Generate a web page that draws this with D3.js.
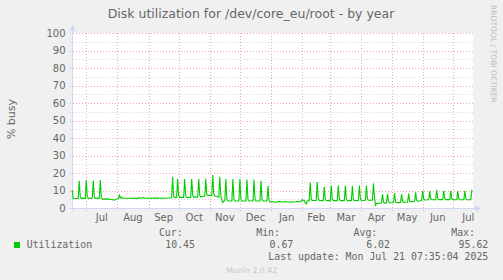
<!DOCTYPE html>
<html>
  <head>
    <script src="https://cdn.jsdelivr.net/npm/d3@7"></script>
    <style>
      body { margin: 0; background: #F0F0F0; }
      text { font-family: "DejaVu Sans", sans-serif; fill: #666; }
      .mono { font-family: "DejaVu Sans Mono", monospace; font-size: 9.9px; }
    </style>
  </head>
  <body>
    <svg id="chart" width="503" height="280"></svg>
    <script>
    // daily utilization (% busy)
    var utilization = [
      ["2024-06-17",10.3],["2024-06-18",5.6],["2024-06-21",5.4],["2024-06-23",5.5],["2024-06-24",15.6],["2024-06-25",6.6],["2024-06-26",5.5],
      ["2024-06-30",5.5],["2024-07-01",16.0],["2024-07-02",6.6],["2024-07-03",5.5],
      ["2024-07-07",5.6],["2024-07-08",15.7],["2024-07-09",6.6],["2024-07-10",5.5],
      ["2024-07-14",5.5],["2024-07-15",16.0],["2024-07-16",6.0],["2024-07-17",5.1],
      ["2024-07-22",5.2],["2024-07-26",4.9],["2024-07-29",4.5],["2024-07-31",5.2],["2024-08-02",5.4],["2024-08-03",7.3],["2024-08-04",5.7],["2024-08-05",6.3],["2024-08-06",5.6],
      ["2024-08-14",5.6],["2024-08-22",5.5],["2024-08-23",6.0],["2024-08-24",5.6],["2024-08-27",5.9],["2024-08-28",5.6],["2024-09-10",5.7],["2024-09-18",5.6],["2024-09-24",5.8],
      ["2024-09-25",17.9],["2024-09-26",6.8],["2024-09-27",6.1],
      ["2024-09-29",6.1],["2024-09-30",16.5],["2024-10-01",7.2],["2024-10-02",6.1],
      ["2024-10-06",6.1],["2024-10-07",16.6],["2024-10-08",7.2],["2024-10-09",6.1],
      ["2024-10-13",6.1],["2024-10-14",16.6],["2024-10-15",7.2],["2024-10-16",6.2],
      ["2024-10-20",6.2],["2024-10-21",16.6],["2024-10-22",7.3],["2024-10-23",6.4],
      ["2024-10-27",6.8],["2024-10-28",16.7],["2024-10-29",7.8],["2024-10-30",7.2],
      ["2024-11-03",7.2],["2024-11-04",18.9],["2024-11-05",8.0],["2024-11-06",6.8],
      ["2024-11-10",6.3],["2024-11-11",17.9],["2024-11-12",6.9],["2024-11-13",4.6],["2024-11-14",3.1],["2024-11-15",4.0],
      ["2024-11-16",4.0],["2024-11-17",16.5],["2024-11-18",5.2],["2024-11-19",4.0],
      ["2024-11-23",4.0],["2024-11-24",16.5],["2024-11-25",5.2],["2024-11-26",4.0],
      ["2024-11-30",4.0],["2024-12-01",16.5],["2024-12-02",5.2],["2024-12-03",4.0],
      ["2024-12-07",4.0],["2024-12-08",16.3],["2024-12-09",5.2],["2024-12-10",4.0],
      ["2024-12-14",4.0],["2024-12-15",16.2],["2024-12-16",5.1],["2024-12-17",4.0],
      ["2024-12-21",4.0],["2024-12-22",15.6],["2024-12-23",5.0],["2024-12-24",4.0],
      ["2024-12-28",4.0],["2024-12-29",12.7],["2024-12-30",4.6],["2024-12-31",3.4],
      ["2025-01-03",3.6],["2025-01-06",3.3],["2025-01-09",3.8],["2025-01-12",3.4],["2025-01-15",3.7],["2025-01-18",3.3],["2025-01-21",3.6],["2025-01-24",3.4],["2025-01-27",3.7],["2025-01-30",3.5],
      ["2025-02-01",4.6],["2025-02-03",4.3],["2025-02-04",3.0],["2025-02-05",2.2],["2025-02-06",4.0],
      ["2025-02-08",4.2],["2025-02-09",14.6],["2025-02-10",5.3],["2025-02-11",4.3],
      ["2025-02-15",4.3],["2025-02-16",14.8],["2025-02-17",5.3],["2025-02-18",4.3],
      ["2025-02-22",4.2],["2025-02-23",12.0],["2025-02-24",5.0],["2025-02-25",4.2],
      ["2025-03-01",4.2],["2025-03-02",12.8],["2025-03-03",5.1],["2025-03-04",4.2],
      ["2025-03-08",4.2],["2025-03-09",12.8],["2025-03-10",5.1],["2025-03-11",4.2],
      ["2025-03-15",4.2],["2025-03-16",12.8],["2025-03-17",5.1],["2025-03-18",4.2],
      ["2025-03-22",4.2],["2025-03-23",12.6],["2025-03-24",5.0],["2025-03-25",4.2],
      ["2025-03-29",4.3],["2025-03-30",12.9],["2025-03-31",5.2],["2025-04-01",4.3],
      ["2025-04-05",4.4],["2025-04-06",12.9],["2025-04-07",5.3],["2025-04-08",4.4],
      ["2025-04-12",4.5],["2025-04-13",14.0],["2025-04-14",6.5],["2025-04-15",1.6],["2025-04-16",2.6],
      ["2025-04-21",2.8],["2025-04-22",8.0],["2025-04-23",3.3],["2025-04-24",2.8],
      ["2025-04-26",2.9],["2025-04-27",8.0],["2025-04-28",3.6],["2025-04-29",3.0],
      ["2025-05-03",3.1],["2025-05-04",8.5],["2025-05-05",3.7],["2025-05-06",3.1],
      ["2025-05-10",3.2],["2025-05-11",8.0],["2025-05-12",3.7],["2025-05-13",3.2],
      ["2025-05-17",3.4],["2025-05-18",8.2],["2025-05-19",4.0],["2025-05-20",3.5],
      ["2025-05-24",3.8],["2025-05-25",9.0],["2025-05-26",4.4],["2025-05-27",3.9],
      ["2025-05-31",4.3],["2025-06-01",9.8],["2025-06-02",5.1],["2025-06-03",4.6],
      ["2025-06-07",4.7],["2025-06-08",9.7],["2025-06-09",5.3],["2025-06-10",4.7],
      ["2025-06-14",4.7],["2025-06-15",10.4],["2025-06-16",5.4],["2025-06-17",4.8],
      ["2025-06-21",4.8],["2025-06-22",9.8],["2025-06-23",5.4],["2025-06-24",4.8],
      ["2025-06-28",4.8],["2025-06-29",9.8],["2025-06-30",5.4],["2025-07-01",4.8],
      ["2025-07-05",4.7],["2025-07-06",9.8],["2025-07-07",5.3],["2025-07-08",4.7],
      ["2025-07-12",4.7],["2025-07-13",9.8],["2025-07-14",5.3],["2025-07-15",4.7],
      ["2025-07-19",4.8],["2025-07-20",10.45]
    ];

    var monthStarts = ["2024-07-01","2024-08-01","2024-09-01","2024-10-01","2024-11-01","2024-12-01",
      "2025-01-01","2025-02-01","2025-03-01","2025-04-01","2025-05-01","2025-06-01","2025-07-01","2025-08-01"];
    var monthLabels = ["Jul","Aug","Sep","Oct","Nov","Dec","Jan","Feb","Mar","Apr","May","Jun","Jul"];
    var yTicks = [0,10,20,30,40,50,60,70,80,90,100];
    var yMinor = [5,15,25,35,45,55,65,75,85,95];

    var statLabels = ["Cur:","Min:","Avg:","Max:"];
    var statValues = ["10.45","0.67","6.02","95.62"];
    var lastUpdate = "Last update: Mon Jul 21 07:35:04 2025";

    var parse = d3.utcParse("%Y-%m-%d");
    var svg = d3.select("#chart");

    var x = d3.scaleUtc()
      .domain([Date.UTC(2024,5,16,7,35), Date.UTC(2025,6,21,7,35)])
      .range([71.5, 473.2]);
    var y = d3.scaleLinear().domain([0,100]).range([208,33]);
    var py = function(v){ return Math.round(y(v)) + 0.5; };
    var px = function(d){ return Math.round(x(d)) + 0.5; };

    svg.append("rect").attr("width",503).attr("height",280).attr("fill","#F0F0F0");
    svg.append("rect").attr("x",72).attr("y",33).attr("width",401).attr("height",175).attr("fill","#fff");

    // minor then major horizontal grid
    svg.append("g").selectAll("line").data(yMinor).enter().append("line")
      .attr("x1",70).attr("x2",475).attr("y1",py).attr("y2",py)
      .attr("stroke","#D6D6D6").attr("stroke-dasharray","1,2");
    svg.append("g").selectAll("line").data(yTicks).enter().append("line")
      .attr("x1",70).attr("x2",475).attr("y1",py).attr("y2",py)
      .attr("stroke","#F0A8A8").attr("stroke-dasharray","1,2");

    var starts = monthStarts.map(parse);
    svg.append("g").selectAll("line").data(starts.slice(0,-1)).enter().append("line")
      .attr("x1",px).attr("x2",px).attr("y1",33).attr("y2",211)
      .attr("stroke","#F0A8A8").attr("stroke-dasharray","1,2");

    svg.append("g").selectAll("text").data(yTicks).enter().append("text")
      .attr("x",65.5).attr("y",function(d){ return y(d)+3.6; })
      .attr("text-anchor","end").style("font-size","10px").text(function(d){ return d; });

    svg.append("g").selectAll("text").data(monthLabels).enter().append("text")
      .attr("x",function(d,i){ return x(new Date((+starts[i] + +starts[i+1])/2)); })
      .attr("y",221).attr("text-anchor","middle").style("font-size","10px").text(function(d){ return d; });

    // axes with arrows
    var axisCol = "#CFD6F8";
    svg.append("line").attr("x1",69).attr("x2",477).attr("y1",208.5).attr("y2",208.5).attr("stroke",axisCol);
    svg.append("path").attr("d","M475,205.5L481,208.5L475,211.5Z").attr("fill",axisCol);
    svg.append("line").attr("x1",72.5).attr("x2",72.5).attr("y1",211).attr("y2",29).attr("stroke",axisCol);
    svg.append("path").attr("d","M69.5,31L72.5,25L75.5,31Z").attr("fill",axisCol);

    var line = d3.line()
      .x(function(d){ return x(parse(d[0])); })
      .y(function(d){ return y(d[1]); });
    svg.append("path").datum(utilization).attr("d",line)
      .attr("fill","none").attr("stroke","#00CC00").attr("stroke-width",1.1);

    svg.append("text").attr("x",251).attr("y",17.5).attr("text-anchor","middle")
      .style("font-size","12.5px").text("Disk utilization for /dev/core_eu/root - by year");
    svg.append("text").attr("transform","translate(14.5,119) rotate(-90)").attr("text-anchor","middle")
      .style("font-size","11px").text("% busy");
    svg.append("text").attr("transform","translate(490.5,5) rotate(90)")
      .style("font-size","7.6px").style("fill","#BDBDBD").text("RRDTOOL / TOBI OETIKER");

    // legend
    svg.append("rect").attr("x",14).attr("y",242).attr("width",6).attr("height",6).attr("fill","#00CC00");
    svg.append("text").attr("class","mono").attr("x",26.7).attr("y",248).text("Utilization");
    var headX = [182.7,280,377.3,475], valX = [195,293.3,390,488.3];
    svg.append("g").selectAll("text").data(statLabels).enter().append("text").attr("class","mono")
      .attr("x",function(d,i){ return headX[i]; }).attr("y",236).attr("text-anchor","end").text(function(d){ return d; });
    svg.append("g").selectAll("text").data(statValues).enter().append("text").attr("class","mono")
      .attr("x",function(d,i){ return valX[i]; }).attr("y",248).attr("text-anchor","end").text(function(d){ return d; });
    svg.append("text").attr("class","mono").attr("x",488.3).attr("y",259.5).attr("text-anchor","end").text(lastUpdate);
    svg.append("text").attr("x",251.7).attr("y",272.5).attr("text-anchor","middle")
      .style("font-size","7.8px").style("fill","#C8C8C8").text("Munin 2.0.42");
    </script>
  </body>
</html>
